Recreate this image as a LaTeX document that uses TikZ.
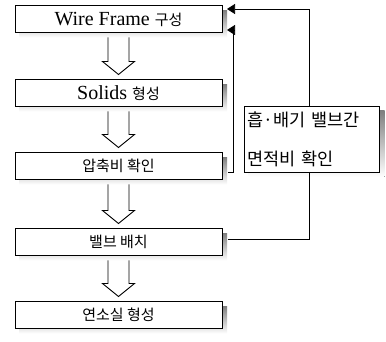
\documentclass[tikz,border=0pt]{standalone}
\usepackage{fontspec}
\setmainfont{Liberation Serif}
\newfontfamily\kr{Noto Sans CJK KR}
\usetikzlibrary{backgrounds,arrows.meta,calc}
\definecolor{shade}{gray}{0.3}

% hollow block arrow from one stage down to the next
\newcommand{\flowarrow}[2]{%
  \draw[hollow] ($(#1.south)+(-10.5,5)$) -- ($(#2.north)+(-10.5,-18)$)
    -- ++(-5.5,0) -- ($(#2.north)+(0,-5)$) -- ($(#2.north)+(16,-18)$)
    -- ++(-5.5,0) -- ($(#1.south)+(10.5,5)$);}

\begin{document}
\begin{tikzpicture}[x=1pt,y=-1pt,
    every node/.style={outer sep=0pt},
    stage/.style={draw,line width=.9pt,fill=white,minimum width=207pt,minimum height=27pt,inner sep=0pt,
      font=\fontsize{20}{22}\selectfont},
    ko/.style={font=\kr\fontsize{15}{18}\selectfont},
    hollow/.style={line width=.9pt},
    link/.style={line width=.7pt},
    tip/.style={-{Triangle[length=8pt,width=10pt]}}]
  \useasboundingbox (0,0) rectangle (386,342);
  % main flow
  \node[stage] (wire) at (118.5,19) {Wire Frame {\kr\fontsize{15}{18}\selectfont 구성}};
  \node[stage] (solid) at (118.5,93) {Solids {\kr\fontsize{15}{18}\selectfont 형성}};
  \node[stage,ko] (ratio) at (118.5,166) {압축비 확인};
  \node[stage,ko] (valve) at (118.5,242) {밸브 배치};
  \node[stage,ko] (chamber) at (118.5,315) {연소실 형성};
  \flowarrow{wire}{solid}
  \flowarrow{solid}{ratio}
  \flowarrow{ratio}{valve}
  \flowarrow{valve}{chamber}
  % side check
  \node[stage,minimum width=135pt,minimum height=66pt,text width=129pt,inner xsep=3pt,align=left,
    font=\kr\fontsize{17.5}{39}\selectfont] (areacheck) at (312,139) {흡·배기 밸브간\\면적비 확인};
  \draw[link,tip] ($(areacheck.north)+(-3,0)$) |- ($(wire.east)+(5,-10)$);
  \draw[link] ($(areacheck.south)+(-3,0)$) |- ($(valve.east)+(6,-3)$);
  \draw[link,tip] ($(ratio.east)+(6,6)$) -- ++(5,0) |- ($(wire.east)+(5,11)$);
  % shadows
  \begin{pgfonlayer}{background}
    \foreach \n in {wire,solid,ratio,valve,chamber,areacheck}
      \fill[shade] ($(\n.south west)+(4,5)$) rectangle ($(\n.north east)+(5,5)$);
  \end{pgfonlayer}
\end{tikzpicture}
\end{document}
